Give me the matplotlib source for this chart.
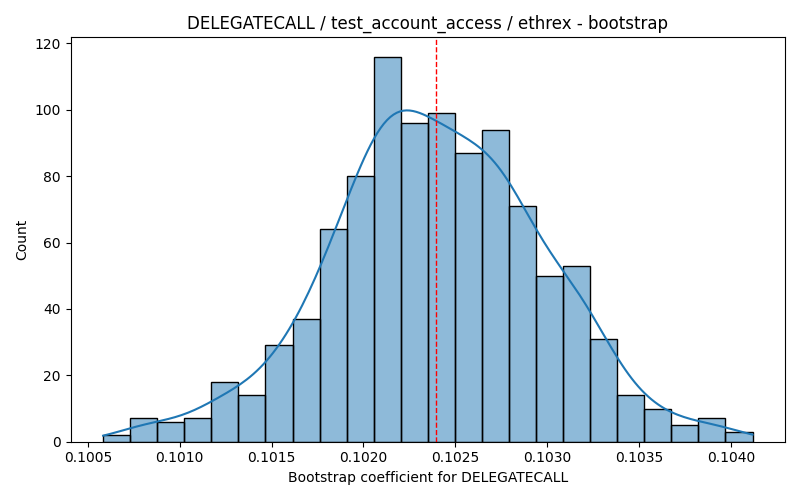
import numpy as np
import matplotlib
matplotlib.use('Agg')
import matplotlib.pyplot as plt

# histogram (1000 bootstrap samples, 24 bins)
bin_start = 0.100583
bin_stop = 0.104118
counts = [2, 7, 6, 7, 18, 14, 29, 37, 64, 80, 116, 96,
          99, 87, 94, 71, 50, 53, 31, 14, 10, 5, 7, 3]
point_estimate = 0.102396

edges = np.linspace(bin_start, bin_stop, len(counts) + 1)
centers = (edges[:-1] + edges[1:]) / 2
widths = np.diff(edges)
counts = np.array(counts)
n = counts.sum()

# gaussian kde from the binned counts (Scott's rule, a bit wider to smooth the binning)
mean = np.average(centers, weights=counts)
std = np.sqrt(np.average((centers - mean) ** 2, weights=counts))
bw = 1.1 * std * n ** (-1 / 5)
xs = np.linspace(bin_start, bin_stop, 200)
dens = (counts[None, :] * np.exp(-0.5 * ((xs[:, None] - centers[None, :]) / bw) ** 2)).sum(axis=1)
dens = dens / (n * bw * np.sqrt(2 * np.pi))

fig, ax = plt.subplots(figsize=(8, 5), dpi=100)
ax.bar(centers, counts, width=widths, color='#1f77b4', alpha=0.5, edgecolor='none')
ax.bar(centers, counts, width=widths, fill=False, edgecolor='black', linewidth=1)
ax.plot(xs, dens * n * widths[0], color='#1f77b4', linewidth=1.5)
ax.axvline(point_estimate, color='red', linestyle='--', linewidth=1)

ax.set_title('DELEGATECALL / test_account_access / ethrex - bootstrap')
ax.set_xlabel('Bootstrap coefficient for DELEGATECALL')
ax.set_ylabel('Count')

plt.tight_layout()
plt.savefig('out.png')
